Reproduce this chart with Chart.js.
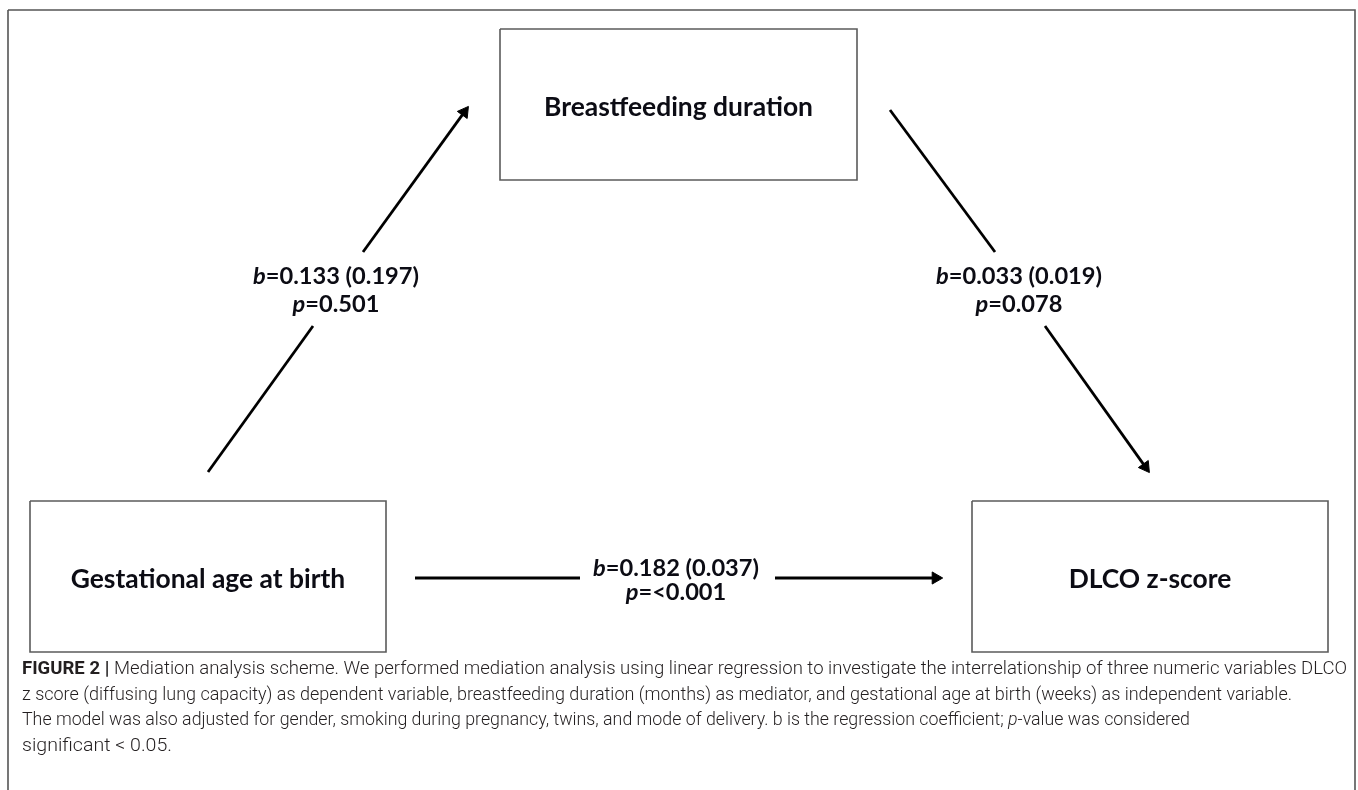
<!DOCTYPE html>
<html>
<head>
<meta charset="utf-8">
<script src="https://cdn.jsdelivr.net/npm/chart.js@4.4.0/dist/chart.umd.min.js"></script>
<style>
html,body{margin:0;padding:0;background:#ffffff;}
#wrap{width:1358px;height:790px;position:relative;}
</style>
</head>
<body>
<div id="wrap"><canvas id="c"></canvas></div>
<script>
// ---------------- DATA ----------------
const nodeNames = ["Breastfeeding duration", "Gestational age at birth", "DLCO z-score"];
const pathNames = ["a", "b", "c"];
const pathFrom  = [1, 0, 1];          // index into nodeNames
const pathTo    = [0, 2, 2];
const coefB     = ["0.133", "0.033", "0.182"];
const coefSE    = ["0.197", "0.019", "0.037"];
const pValues   = ["0.501", "0.078", "<0.001"];
const captionLines = [
  [["b","FIGURE 2 | "],["r","Mediation analysis scheme. We performed mediation analysis using linear regression to investigate the interrelationship of three numeric variables DLCO"]],
  [["r","z score (diffusing lung capacity) as dependent variable, breastfeeding duration (months) as mediator, and gestational age at birth (weeks) as independent variable."]],
  [["r","The model was also adjusted for gender, smoking during pregnancy, twins, and mode of delivery. b is the regression coefficient; "],["i","p"],["r","-value was considered"]],
  [["r","significant < 0.05."]]
];

// ---------------- LAYOUT (diagram units = px) ----------------
const W = 1358, H = 790;
const layout = {
  frame: [8, 10, 1355, 820],
  boxes: [[500, 29, 857, 180], [30, 501, 386, 652], [972, 501, 1328, 652]],
  boxTextDy: 3,
  arrows: [
    [[208, 472, 313, 326], [363, 252, 468, 107]],
    [[890, 110, 995, 252], [1045, 326, 1149, 472]],
    [[415, 578, 580, 578], [775, 578, 942, 578]]
  ],
  labels: [[336, 276, 304], [1019, 276, 304], [676, 568, 592]],
  captionX: 22,
  captionRight: [1347, 1292, 1190, 172],
  captionY: [669, 695, 720, 746]
};
const style = {
  boxStroke: '#5b5b5b', boxWidth: 1.6,
  frameStroke: '#555555', frameWidth: 1.6,
  arrowColor: '#000000', arrowWidth: 2.8, headR: 7,
  textColor: '#0c0c14',
  boxFont: 'Lato, "Open Sans", sans-serif', boxTextWidth: 269,
  labelFont: 'Lato, "Open Sans", sans-serif', labelTextWidth: 166,
  capFont: 'Roboto, "Liberation Sans", sans-serif', capSize: 18.5, capColor: '#231f20'
};

// ---------------- DATASETS ----------------
function rectData(r) {
  return [{x:r[0],y:r[1]},{x:r[2],y:r[1]},{x:r[2],y:r[3]},{x:r[0],y:r[3]},{x:r[0],y:r[1]}];
}
const datasets = [];
datasets.push({label:'frame', data: rectData(layout.frame), showLine:true, borderColor:style.frameStroke,
  borderWidth:style.frameWidth, pointRadius:0, fill:false, clip:false, tension:0});
layout.boxes.forEach((b,i)=>{
  datasets.push({label:nodeNames[i], data: rectData(b), showLine:true, borderColor:style.boxStroke,
    borderWidth:style.boxWidth, pointRadius:0, fill:false, clip:false, tension:0});
});
layout.arrows.forEach((segs,i)=>{
  segs.forEach((s,j)=>{
    const last = j === segs.length - 1;
    let data = [{x:s[0],y:s[1]},{x:s[2],y:s[3]}];
    let rot = 0;
    if (last) {
      const dx = s[2]-s[0], dy = s[3]-s[1], L = Math.hypot(dx,dy);
      const r = style.headR;
      data[1] = {x: s[2] - dx/L*r*0.9, y: s[3] - dy/L*r*0.9};
      rot = Math.atan2(dx, -dy) * 180 / Math.PI;
    }
    datasets.push({label:'path '+pathNames[i]+' '+j, data, showLine:true,
      borderColor:style.arrowColor, borderWidth:style.arrowWidth, borderCapStyle:'butt',
      pointRadius: last ? [0, style.headR] : 0, pointHoverRadius:0,
      pointStyle:'triangle', rotation: last ? [0, rot] : 0,
      pointBackgroundColor:style.arrowColor, pointBorderColor:style.arrowColor, pointBorderWidth:1,
      fill:false, clip:false, tension:0});
  });
});

// ---------------- TEXT PLUGIN ----------------
function runsWidth(ctx, runs) {
  let w = 0;
  runs.forEach(r => { ctx.font = r.f; w += ctx.measureText(r.t).width; });
  return w;
}
function drawRuns(ctx, runs, x, y, align, sxScale) {
  const s = sxScale || 1;
  const w = runsWidth(ctx, runs) * s;
  let cx = align === 'center' ? x - w/2 : x;
  ctx.save();
  ctx.translate(cx, y);
  ctx.scale(s, 1);
  let off = 0;
  runs.forEach(r => { ctx.font = r.f; ctx.textAlign='left'; ctx.fillText(r.t, off, 0); off += ctx.measureText(r.t).width; });
  ctx.restore();
}
function fitSize(ctx, runsFn, target) {
  const w100 = runsWidth(ctx, runsFn(100));
  return 100 * target / w100;
}

const textPlugin = {
  id: 'diagramText',
  afterDatasetsDraw(chart) {
    const ctx = chart.ctx;
    const X = v => chart.scales.x.getPixelForValue(v);
    const Y = v => chart.scales.y.getPixelForValue(v);
    ctx.save();
    ctx.textBaseline = 'middle';
    ctx.fillStyle = style.textColor;

    // node titles
    const bsz = fitSize(ctx, sz => [{t:nodeNames[0], f:`700 ${sz}px ${style.boxFont}`}], style.boxTextWidth);
    nodeNames.forEach((n,i)=>{
      const b = layout.boxes[i];
      drawRuns(ctx, [{t:n, f:`700 ${bsz}px ${style.boxFont}`}], X((b[0]+b[2])/2), Y((b[1]+b[3])/2 + layout.boxTextDy), 'center');
    });

    // path labels
    const l1 = (i, sz) => [{t:'b', f:`italic 700 ${sz}px ${style.labelFont}`},
                           {t:'='+coefB[i]+' ('+coefSE[i]+')', f:`700 ${sz}px ${style.labelFont}`}];
    const l2 = (i, sz) => [{t:'p', f:`italic 700 ${sz}px ${style.labelFont}`},
                           {t:'='+pValues[i], f:`700 ${sz}px ${style.labelFont}`}];
    const lsz = fitSize(ctx, sz => l1(0, sz), style.labelTextWidth);
    layout.labels.forEach((L,i)=>{
      drawRuns(ctx, l1(i, lsz), X(L[0]), Y(L[1]), 'center');
      drawRuns(ctx, l2(i, lsz), X(L[0]), Y(L[2]), 'center');
    });

    // caption: each line fitted horizontally to its measured extent
    ctx.fillStyle = style.capColor;
    const fmap = {b:`700 ${style.capSize}px ${style.capFont}`, r:`300 ${style.capSize}px ${style.capFont}`, i:`italic 300 ${style.capSize}px ${style.capFont}`};
    const toRuns = line => line.map(p => ({t:p[1], f:fmap[p[0]]}));
    captionLines.forEach((line, k)=>{
      const runs = toRuns(line);
      const natural = runsWidth(ctx, runs);
      const sc = (layout.captionRight[k] - layout.captionX) / natural;
      drawRuns(ctx, runs, X(layout.captionX), Y(layout.captionY[k]), 'left', sc);
    });
    ctx.restore();
  }
};

// ---------------- CHART ----------------
new Chart(document.getElementById('c'), {
  type: 'scatter',
  data: { datasets },
  options: {
    responsive: true, maintainAspectRatio: false, animation: false,
    layout: { padding: 0, autoPadding: false },
    events: [],
    plugins: { legend: {display:false}, tooltip: {enabled:false}, title:{display:false} },
    scales: {
      x: { type:'linear', min:0, max:W, display:false },
      y: { type:'linear', min:0, max:H, reverse:true, display:false }
    }
  },
  plugins: [textPlugin]
});
</script>
</body>
</html>
